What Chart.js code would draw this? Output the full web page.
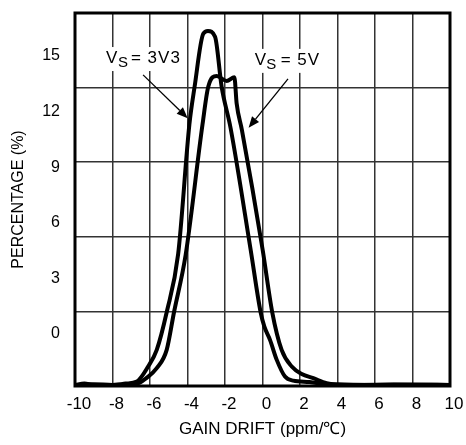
<!DOCTYPE html>
<html><head><meta charset="utf-8">
<script src="https://cdn.jsdelivr.net/npm/chart.js@4"></script>
<style>html,body{margin:0;padding:0;background:#fff}#wrap{width:466px;height:445px}</style>
</head><body><div id="wrap"><canvas id="c" width="466" height="445"></canvas></div>
<script>
const xTicks = [-10, -8, -6, -4, -2, 0, 2, 4, 6, 8, 10];
const yTicks = [0, 3, 6, 9, 12, 15];
const xTitle = 'GAIN DRIFT (ppm/℃)';
const yTitle = 'PERCENTAGE (%)';

const drift3V3 = [-10, -9.5, -9, -8, -7.3, -6.7, -6.1, -5.64, -5.11, -4.5, -3.9, -3.62, -3.16, -2.91, -2.53, -2.18, -1.7, -0.63, -0.1, 0.1, 0.4, 0.76, 1.2, 1.64, 2.5, 3.6, 5, 7, 10];
const pct3V3 = [-2.75, -2.68, -2.75, -2.75, -2.68, -2.57, -1.76, -0.86, 1.17, 4.3, 11.3, 13.35, 16.2, 16.35, 16.04, 13.35, 11.1, 4.53, 1.17, 0.39, -0.32, -1.40, -2.30, -2.52, -2.59, -2.75, -2.75, -2.73, -2.75];

const drift5V = [-10, -9, -8, -7.5, -6.71, -6.18, -5.64, -5.11, -4.72, -4.1, -3.2, -2.89, -2.44, -1.91, -1.5, -1.38, -1.1, 0.01, 0.52, 1.02, 1.56, 2.09, 2.71, 3.42, 4, 6, 8, 10];
const pct5V = [-2.75, -2.72, -2.75, -2.74, -2.70, -2.37, -1.85, -0.86, 1.17, 4.26, 11.3, 13.35, 13.92, 13.65, 13.85, 12.45, 11.01, 4.53, 1.17, -0.86, -1.76, -2.16, -2.39, -2.66, -2.72, -2.75, -2.74, -2.75];

// annotation anchors in data units; piece offsets in px (styling)
const labels = [
  {main: 'V', sub: 'S', rest: '= 3V3', x: -8.35, y: 14.62, offs: [0, 12, 25], box: 82,
   ax0: -6.37, ay0: 13.98, ax1: -3.99, ay1: 11.64},
  {main: 'V', sub: 'S', rest: '= 5V', x: -0.42, y: 14.52, offs: [0, 11.5, 26], box: 68,
   ax0: 1.36, ay0: 13.76, ax1: -0.74, ay1: 11.13}
];

const toPts = (xs, ys) => xs.map((x, i) => ({x: x, y: ys[i]}));
const FONT = '"Liberation Sans", Arial, sans-serif';

const deco = {
  id: 'deco',
  beforeDatasetsDraw(chart) {
    const ctx = chart.ctx, xs = chart.scales.x, ys = chart.scales.y;
    ctx.save();
    ctx.fillStyle = '#fff';
    labels.forEach(l => {
      const px = xs.getPixelForValue(l.x), py = ys.getPixelForValue(l.y);
      ctx.fillRect(px - 3, py - 16, l.box, 24);
    });
    ctx.restore();
  },
  afterDatasetsDraw(chart) {
    const ctx = chart.ctx, xs = chart.scales.x, ys = chart.scales.y;
    const a = chart.chartArea;
    ctx.save();
    ctx.fillStyle = '#000';
    ctx.textBaseline = 'alphabetic';
    labels.forEach(l => {
      const px = xs.getPixelForValue(l.x), py = ys.getPixelForValue(l.y);
      ctx.letterSpacing = '0px';
      ctx.font = '17px ' + FONT;
      ctx.fillText(l.main, px + l.offs[0], py);
      ctx.font = '15px ' + FONT;
      ctx.fillText(l.sub, px + l.offs[1], py + 4);
      ctx.font = '17px ' + FONT;
      ctx.letterSpacing = '1px';
      ctx.fillText(l.rest, px + l.offs[2], py);
      ctx.letterSpacing = '0px';
      // arrow
      const x0 = xs.getPixelForValue(l.ax0), y0 = ys.getPixelForValue(l.ay0);
      const x1 = xs.getPixelForValue(l.ax1), y1 = ys.getPixelForValue(l.ay1);
      const ang = Math.atan2(y1 - y0, x1 - x0);
      const hl = 11, hw = 4.5;
      const bx = x1 - hl * Math.cos(ang), by = y1 - hl * Math.sin(ang);
      ctx.strokeStyle = '#000';
      ctx.lineWidth = 1.3;
      ctx.beginPath(); ctx.moveTo(x0, y0); ctx.lineTo(bx, by); ctx.stroke();
      ctx.beginPath();
      ctx.moveTo(x1, y1);
      ctx.lineTo(bx + hw * Math.sin(ang), by - hw * Math.cos(ang));
      ctx.lineTo(bx - hw * Math.sin(ang), by + hw * Math.cos(ang));
      ctx.closePath(); ctx.fill();
    });
    ctx.strokeStyle = '#000';
    ctx.lineWidth = 3;
    ctx.strokeRect(a.left, a.top, a.right - a.left, a.bottom - a.top);
    ctx.restore();
  }
};

new Chart(document.getElementById('c'), {
  type: 'scatter',
  data: {
    datasets: [
      {label: 'VS = 3V3', data: toPts(drift3V3, pct3V3)},
      {label: 'VS = 5V', data: toPts(drift5V, pct5V)}
    ].map(d => Object.assign(d, {
      showLine: true, borderColor: '#000', backgroundColor: '#000', borderWidth: 4,
      pointRadius: 0, cubicInterpolationMode: 'monotone', borderJoinStyle: 'round', borderCapStyle: 'round'
    }))
  },
  options: {
    responsive: false, animation: false, devicePixelRatio: 1,
    layout: {padding: {top: 13, right: 16, left: 0, bottom: 0}},
    plugins: {legend: {display: false}, tooltip: {enabled: false}},
    scales: {
      x: {
        type: 'linear', min: -10, max: 10,
        afterBuildTicks: s => { s.ticks = xTicks.map(v => ({value: v})); },
        afterFit: s => { s.height = 59; s.paddingLeft = 0; s.paddingRight = 0; },
        grid: {color: '#333', lineWidth: 1.5, drawTicks: false},
        border: {display: false},
        ticks: {color: '#000', padding: 8, labelOffset: 4, font: {size: 17, family: FONT}},
        title: {display: true, text: xTitle, color: '#000', padding: {top: 0, bottom: 5}, font: {size: 17, family: FONT}}
      },
      y: {
        type: 'linear', position: 'left', min: -2.81, max: 17.32,
        afterBuildTicks: s => { s.ticks = yTicks.map(v => ({value: v})); },
        afterFit: s => { s.width = 75; s.paddingTop = 0; s.paddingBottom = 0; },
        grid: {display: false, drawTicks: false},
        border: {display: false},
        ticks: {color: '#000', padding: 15, font: {size: 16, family: FONT}},
        title: {display: true, text: yTitle, color: '#000', padding: {top: 9, bottom: 0}, font: {size: 16, family: FONT}}
      },
      yg: {
        type: 'linear', position: 'left', min: 0, max: 5,
        ticks: {display: false, stepSize: 1},
        afterFit: s => { s.width = 0; s.paddingTop = 0; s.paddingBottom = 0; },
        grid: {color: '#333', lineWidth: 1.5, drawTicks: false},
        border: {display: false}
      }
    }
  },
  plugins: [deco]
});
</script>
</body></html>
